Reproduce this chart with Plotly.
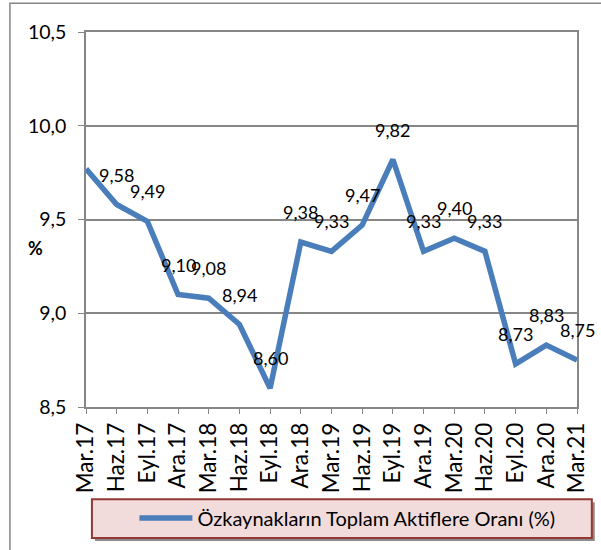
import plotly.graph_objects as go

# Quarterly equity-to-total-assets ratio (%)
periods = ["Mar.17", "Haz.17", "Eyl.17", "Ara.17", "Mar.18", "Haz.18", "Eyl.18", "Ara.18",
           "Mar.19", "Haz.19", "Eyl.19", "Ara.19", "Mar.20", "Haz.20", "Eyl.20", "Ara.20", "Mar.21"]
ratios = [9.77, 9.58, 9.49, 9.10, 9.08, 8.94, 8.60, 9.38,
          9.33, 9.47, 9.82, 9.33, 9.40, 9.33, 8.73, 8.83, 8.75]
# the first point carries no value label
show_label = [False] + [True] * (len(ratios) - 1)
y_ticks = [8.5, 9.0, 9.5, 10.0, 10.5]
series_name = "Özkaynakların Toplam Aktiflere Oranı (%)"

FONT = "Lato"
GRID = "#868686"
LINE = "#4a7ebb"

fig = go.Figure()
fig.add_trace(go.Scatter(
    x=list(range(len(periods))), y=ratios, mode="lines", name=series_name,
    line=dict(color=LINE, width=5.5), showlegend=True,
))

# value labels above each point
for i, (v, show) in enumerate(zip(ratios, show_label)):
    if not show:
        continue
    fig.add_annotation(
        x=i, y=v, xref="x", yref="y", text=f"{v:.2f}".replace(".", ","),
        showarrow=False, yshift=30, font=dict(family=FONT, size=18, color="black"),
    )

# plot-area geometry in pixels (used for paper-coordinate shapes)
L, R, T, B = 86, 583, 32, 410
W, H = R - L, B - T


def px(x):
    return (x - L) / W


def py(y):
    return (B - y) / H


# outer chart frame
fig.add_shape(type="rect", xref="paper", yref="paper",
              x0=px(9), x1=px(620), y0=py(570), y1=py(3),
              line=dict(color=GRID, width=1.5), fillcolor="rgba(0,0,0,0)", layer="below")
# legend box with drop shadow
fig.add_shape(type="rect", xref="paper", yref="paper",
              x0=px(95), x1=px(601), y0=py(545), y1=py(506),
              line=dict(width=0), fillcolor="#8c8c8c", layer="below")
fig.add_shape(type="rect", xref="paper", yref="paper",
              x0=px(92), x1=px(598), y0=py(542), y1=py(503),
              line=dict(color="#953735", width=2), fillcolor="#f2dcdb", layer="below")

fig.add_annotation(x=px(25), y=py(250), xref="paper", yref="paper", text="<b>%</b>",
                   showarrow=False, font=dict(family=FONT, size=18, color="black"))

fig.update_layout(
    width=601, height=550,
    margin=dict(l=L, r=601 - R, t=T, b=550 - B),
    paper_bgcolor="white", plot_bgcolor="white",
    separators=", ",
    font=dict(family=FONT, color="black"),
    showlegend=True,
    legend=dict(x=px(135), y=py(522), xanchor="left", yanchor="middle",
                bgcolor="rgba(0,0,0,0)", borderwidth=0, itemwidth=53,
                font=dict(family=FONT, size=20, color="black")),
)
fig.update_xaxes(
    range=[0, len(periods) - 1], tickmode="array",
    tickvals=list(range(len(periods))), ticktext=periods,
    tickangle=-90, tickfont=dict(family=FONT, size=22.5, color="black"),
    showgrid=False, showline=True, linecolor=GRID, linewidth=1.5, mirror=True,
    ticks="outside", ticklen=5, tickcolor=GRID, zeroline=False,
)
fig.update_yaxes(
    range=[8.5, 10.5], tickmode="array", tickvals=y_ticks,
    ticktext=[f"{t:.1f}".replace(".", ",") for t in y_ticks],
    tickfont=dict(family=FONT, size=19.5, color="black"),
    showgrid=True, gridcolor=GRID, gridwidth=1.5,
    showline=True, linecolor=GRID, linewidth=1.5, mirror=True,
    ticks="outside", ticklen=6, tickcolor=GRID, ticklabelstandoff=8, zeroline=False,
)

fig.write_html("out.html")
